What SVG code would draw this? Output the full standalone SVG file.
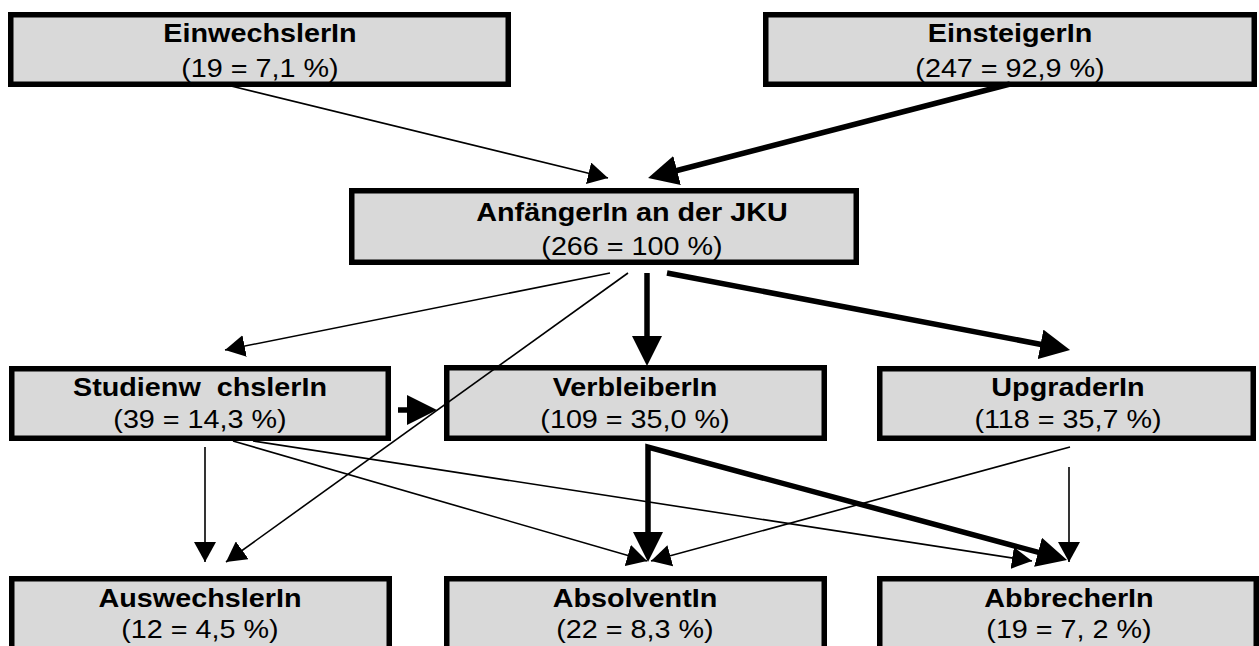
<svg xmlns="http://www.w3.org/2000/svg" width="1259" height="646" viewBox="0 0 1259 646">
<style>
.box{fill:#d9d9d9;stroke:#000;stroke-width:5.5}
.t{font-family:"Liberation Sans",Arial,sans-serif;font-size:25px;fill:#000;text-anchor:middle}
.b{font-weight:bold}
.thin{stroke:#000;stroke-width:1.6;fill:none}
.thick{stroke:#000;stroke-width:5.5;fill:none}
</style>
<defs>
<marker id="ah" viewBox="0 0 20 22" refX="20" refY="11" markerWidth="20" markerHeight="22" markerUnits="userSpaceOnUse" orient="auto">
<path d="M0,0 L20,11 L0,22 z" fill="#000"/>
</marker>
<marker id="AH" viewBox="0 0 30 30" refX="10" refY="15" markerWidth="30" markerHeight="30" markerUnits="userSpaceOnUse" orient="auto-start-reverse">
<path d="M0,0 L30,15 L0,30 z" fill="#000"/>
</marker>
</defs>
<rect width="1259" height="646" fill="#fff"/>

<g id="einwechsler">
<rect class="box" x="10.75" y="14.75" width="497.5" height="69.5"/>
<text class="t b" transform="translate(260,42) scale(1.15,1)">EinwechslerIn</text>
<text class="t" transform="translate(260,77) scale(1.15,1)">(19 = 7,1 %)</text>
</g>
<g id="einsteiger">
<rect class="box" x="765.75" y="14.75" width="488.5" height="69.5"/>
<text class="t b" transform="translate(1010,42) scale(1.15,1)">EinsteigerIn</text>
<text class="t" transform="translate(1010,77) scale(1.15,1)">(247 = 92,9 %)</text>
</g>
<g id="anfaenger">
<rect class="box" x="351.75" y="190.75" width="504.5" height="71.5"/>
<text class="t b" transform="translate(632,221) scale(1.15,1)">AnfängerIn an der JKU</text>
<text class="t" transform="translate(632,255) scale(1.15,1)">(266 = 100 %)</text>
</g>
<g id="studienwechsler">
<rect class="box" x="11.75" y="368.75" width="376.5" height="69.5"/>
<text class="t b" transform="translate(200,396) scale(1.15,1)" xml:space="preserve">Studienw  chslerIn</text>
<text class="t" transform="translate(200,428) scale(1.15,1)">(39 = 14,3 %)</text>
</g>
<g id="verbleiber">
<rect class="box" x="446.75" y="367.75" width="377.5" height="70.5"/>
<text class="t b" transform="translate(635,396) scale(1.15,1)">VerbleiberIn</text>
<text class="t" transform="translate(635,428) scale(1.15,1)">(109 = 35,0 %)</text>
</g>
<g id="upgrader">
<rect class="box" x="879.75" y="368.75" width="373.5" height="69.5"/>
<text class="t b" transform="translate(1068,396) scale(1.15,1)">UpgraderIn</text>
<text class="t" transform="translate(1068,428) scale(1.15,1)">(118 = 35,7 %)</text>
</g>
<g id="auswechsler">
<rect class="box" x="11.75" y="578.75" width="377.5" height="90"/>
<text class="t b" transform="translate(200,607) scale(1.15,1)">AuswechslerIn</text>
<text class="t" transform="translate(200,638) scale(1.15,1)">(12 = 4,5 %)</text>
</g>
<g id="absolvent">
<rect class="box" x="446.75" y="578.75" width="377.5" height="90"/>
<text class="t b" transform="translate(635,607) scale(1.15,1)">AbsolventIn</text>
<text class="t" transform="translate(635,638) scale(1.15,1)">(22 = 8,3 %)</text>
</g>
<g id="abbrecher">
<rect class="box" x="879.75" y="578.75" width="376.5" height="90"/>
<text class="t b" transform="translate(1069,607) scale(1.15,1)">AbbrecherIn</text>
<text class="t" transform="translate(1069,638) scale(1.15,1)">(19 = 7, 2 %)</text>
</g>

<g id="connectors">
<path class="thin" d="M227,85 L608,178" marker-end="url(#ah)"/>
<path class="thick" d="M1010,84 L667.4,173" marker-end="url(#AH)"/>
<path class="thin" d="M610,273 L225,350" marker-end="url(#ah)"/>
<path class="thin" d="M628,273 L226,562" marker-end="url(#ah)"/>
<path class="thick" d="M647,273 L647,346" marker-end="url(#AH)"/>
<path class="thick" d="M667,273 L1050.4,346.2" marker-end="url(#AH)"/>
<path class="thick" d="M398,410 L417,410" marker-end="url(#AH)"/>
<path class="thin" d="M205,447 L205,562" marker-end="url(#ah)"/>
<path class="thin" d="M233,441 L647,561" marker-end="url(#ah)"/>
<path class="thin" d="M253,441 L1032,561" marker-end="url(#ah)"/>
<path class="thick" d="M1047.7,554.8 L648,447 L648,542" stroke-linejoin="miter" marker-start="url(#AH)" marker-end="url(#AH)"/>
<path class="thin" d="M1070,447 L651,561" marker-end="url(#ah)"/>
<path class="thin" d="M1069,467 L1069,562" marker-end="url(#ah)"/>
</g>
</svg>
